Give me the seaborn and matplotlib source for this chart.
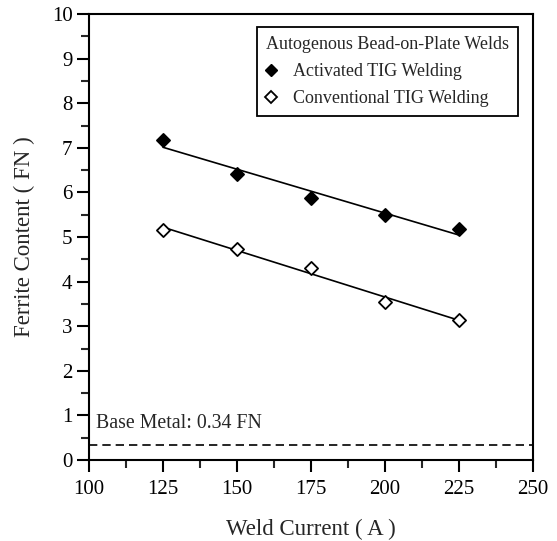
import numpy as np
import pandas as pd
import matplotlib
matplotlib.use("Agg")
import matplotlib.pyplot as plt
import seaborn as sns
from matplotlib.ticker import MultipleLocator
from matplotlib.lines import Line2D

sns.set_theme(style="ticks")
plt.rcParams['font.family'] = ['Liberation Serif', 'DejaVu Serif']

current = [125, 150, 175, 200, 225]
activated = [7.18, 6.41, 5.88, 5.49, 5.18]
conventional = [5.16, 4.73, 4.30, 3.55, 3.14]
base_metal = 0.34

df = pd.DataFrame({
    "Weld Current": current * 2,
    "Ferrite": activated + conventional,
    "Process": ["Activated TIG Welding"] * 5 + ["Conventional TIG Welding"] * 5,
})

fig = plt.figure(figsize=(5.57, 5.41), dpi=100)
ax = fig.add_axes([0.16, 0.1497, 0.797, 0.8243])

for proc, fc in [("Activated TIG Welding", "black"), ("Conventional TIG Welding", "white")]:
    sub = df[df["Process"] == proc]
    sns.regplot(data=sub, x="Weld Current", y="Ferrite", ax=ax, ci=None, scatter=False,
                line_kws=dict(color="black", lw=1.2), truncate=True)
    sns.scatterplot(data=sub, x="Weld Current", y="Ferrite", ax=ax, marker="D", s=45,
                    facecolor=fc, edgecolor="black", linewidth=1.3, zorder=5)

ax.axhline(base_metal, color="black", ls=(0, (5, 3)), lw=1.2)
ax.text(102.3, 0.6, "Base Metal: 0.34 FN", fontsize=14.3, ha="left", va="bottom")

ax.set_xlim(100, 250)
ax.set_ylim(0, 10)
ax.xaxis.set_major_locator(MultipleLocator(25))
ax.xaxis.set_minor_locator(MultipleLocator(12.5))
ax.yaxis.set_major_locator(MultipleLocator(1))
ax.yaxis.set_minor_locator(MultipleLocator(0.5))
ax.tick_params(which="major", direction="out", length=8.5, width=1.5, labelsize=15, colors="black")
ax.tick_params(which="minor", direction="out", length=6, width=1.5)
ax.tick_params(axis="x", which="major", pad=6)
ax.tick_params(axis="y", which="major", pad=3.5)
ax.tick_params(top=False, right=False, which="both")
for sp in ax.spines.values():
    sp.set_linewidth(1.5)
    sp.set_color("black")
    sp.set_visible(True)

ax.set_xlabel("Weld Current ( A )", fontsize=16.5, labelpad=14)
ax.set_ylabel("Ferrite Content ( FN )", fontsize=16.5, labelpad=12)

handles = [
    Line2D([], [], marker="D", ls="", markerfacecolor="black", markeredgecolor="black", markersize=6.5),
    Line2D([], [], marker="D", ls="", markerfacecolor="white", markeredgecolor="black", markersize=6.5, markeredgewidth=1.3),
]
leg = ax.legend(handles, ["Activated TIG Welding", "Conventional TIG Welding"],
                title="Autogenous Bead-on-Plate Welds", loc="upper right",
                bbox_to_anchor=(0.966, 0.971), borderaxespad=0, fontsize=13, title_fontsize=13,
                frameon=True, fancybox=False, edgecolor="black", framealpha=1,
                handletextpad=0.9, borderpad=0.5, labelspacing=0.55, handlelength=0.6)
leg._legend_box.align = "left"
leg.get_frame().set_linewidth(1.3)

fig.savefig("out.png", dpi=100)
